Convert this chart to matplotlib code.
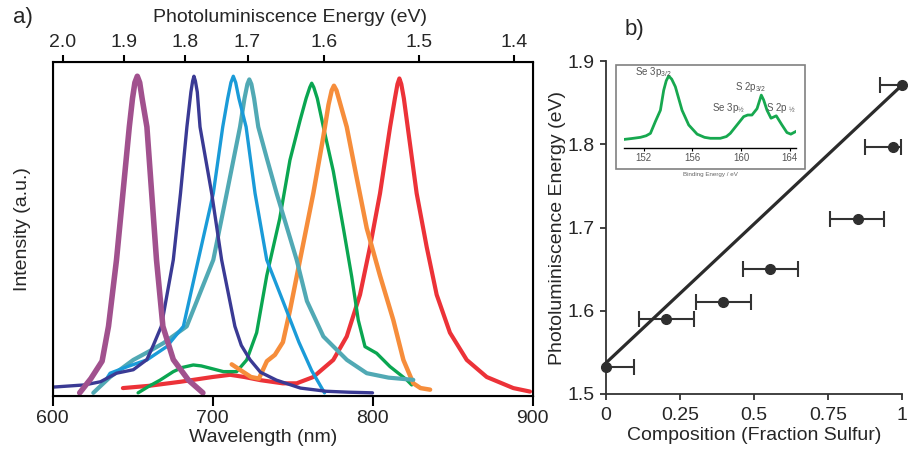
import matplotlib
matplotlib.use("Agg")
import matplotlib.pyplot as plt
from matplotlib.patches import Rectangle

plt.rcParams['font.family'] = ['Liberation Sans', 'DejaVu Sans']
plt.rcParams['mathtext.default'] = 'regular'

# --- a) photoluminescence spectra (wavelength nm, normalised intensity) ---
magenta_nm = [617, 624, 631, 635, 640, 644, 648, 650, 651.5, 653, 654.5, 656, 659, 662, 665, 669, 675.5, 685, 694]
magenta_I = [0.0, 0.045, 0.10, 0.21, 0.42, 0.63, 0.84, 0.93, 0.98, 1.0, 0.98, 0.93, 0.84, 0.63, 0.42, 0.21,
             0.105, 0.04, 0.0]

navy_nm = [600, 620, 630, 640, 650.5, 659, 663, 668, 675.5, 680, 684, 686.5, 687.6, 688.4, 689.3, 690.5, 692.2,
           699.5, 705.7, 714, 718, 723.4, 730, 740, 755, 771, 785, 800]
navy_I = [0.018, 0.025, 0.035, 0.062, 0.073, 0.105, 0.15, 0.21, 0.42, 0.63, 0.84, 0.95, 0.985, 1.0, 0.985, 0.95,
          0.84, 0.63, 0.42, 0.21, 0.15, 0.105, 0.065, 0.04, 0.015, 0.005, 0.002, 0.0]

blue_nm = [634, 636, 648, 659, 671.4, 681.8, 691.1, 700.5, 706.4, 709.5, 711.5, 713, 714.5, 716.5, 721, 726.6,
           733.9, 744, 754, 762, 770]
blue_I = [0.046, 0.062, 0.085, 0.104, 0.146, 0.21, 0.42, 0.63, 0.84, 0.93, 0.98, 1.0, 0.98, 0.93, 0.84, 0.63,
          0.42, 0.29, 0.16, 0.07, 0.0]

teal_nm = [625.5, 636, 650.5, 660, 669.3, 683.9, 692.2, 700.5, 708.9, 717.2, 720, 721.8, 723, 724.3, 726,
           728.6, 734, 740.1, 752.6, 759, 769.3, 784, 796.4, 810, 825.5]
teal_I = [0.0, 0.05, 0.104, 0.13, 0.157, 0.21, 0.315, 0.42, 0.63, 0.84, 0.93, 0.975, 0.99, 0.975, 0.93,
          0.84, 0.74, 0.63, 0.42, 0.29, 0.178, 0.104, 0.062, 0.048, 0.041]

green_nm = [653.5, 660, 667.2, 675.5, 681, 688, 693, 698.4, 706.8, 715.1, 721.4, 727.6, 733.9, 742, 748.4,
            754.7, 758.5, 760.8, 762, 763.3, 765.5, 769.3, 775.5, 781.8, 787, 791.1, 795.3, 802.6, 810.9,
            821.4, 824.5]
green_I = [0.0, 0.02, 0.04, 0.067, 0.08, 0.088, 0.085, 0.078, 0.067, 0.067, 0.104, 0.19, 0.37, 0.55, 0.735,
           0.86, 0.93, 0.965, 0.978, 0.965, 0.93, 0.84, 0.70, 0.52, 0.367, 0.23, 0.146, 0.125, 0.083,
           0.041, 0.025]

orange_nm = [712, 718, 724, 729, 734, 739, 744, 748.4, 754.7, 763, 769.3, 772.5, 774.5, 775.9, 777.5, 780,
             783.9, 790.1, 796.4, 804.7, 813, 819.3, 825.5, 830, 836]
orange_I = [0.09, 0.07, 0.05, 0.045, 0.10, 0.12, 0.16, 0.26, 0.42, 0.63, 0.81, 0.91, 0.955, 0.97, 0.955, 0.91,
            0.84, 0.68, 0.52, 0.37, 0.23, 0.104, 0.03, 0.015, 0.01]

red_nm = [644, 660, 680, 700, 711, 720, 730, 744, 752.6, 763, 775.5, 783.9, 792.2, 798.4, 804.7, 811, 814,
          815.6, 816.8, 818, 819.6, 822, 827.6, 833.9, 840.1, 848.4, 858.9, 871.4, 888, 898.4]
red_I = [0.015, 0.022, 0.035, 0.05, 0.057, 0.05, 0.04, 0.03, 0.03, 0.05, 0.104, 0.178, 0.31, 0.46, 0.63, 0.84,
         0.93, 0.975, 0.993, 0.975, 0.93, 0.84, 0.63, 0.46, 0.31, 0.19, 0.104, 0.05, 0.015, 0.004]

# top axis: photon energy labels and where they sit on the wavelength scale
energy_labels = ['2.0', '1.9', '1.8', '1.7', '1.6', '1.5', '1.4']
energy_tick_nm = [606.3, 644.9, 683.1, 721.9, 769.9, 828.8, 888.6]

# --- b) PL energy vs sulfur fraction ---
sulfur_frac = [0.0, 0.204, 0.396, 0.555, 0.851, 0.969, 1.0]
pl_energy = [1.532, 1.590, 1.610, 1.650, 1.710, 1.797, 1.871]
frac_err_lo = [0.096, 0.091, 0.090, 0.091, 0.093, 0.093, 0.073]
frac_err_hi = [0.096, 0.093, 0.095, 0.094, 0.089, 0.028, 0.073]
fit_x = [0.0, 1.0]
fit_y = [1.537, 1.871]

# inset: XPS spectrum (binding energy eV, normalised counts)
xps_ev = [150.44, 151.0, 151.73, 152.2, 152.55, 152.96, 153.37, 153.64, 153.85, 154.05, 154.3, 154.6,
          155.15, 155.7, 156.39, 157.0, 157.48, 158.3, 158.8, 159.12, 159.67, 160.22, 160.55, 160.9, 161.32,
          161.67, 161.86, 162.14, 162.47, 162.9, 163.37, 163.78, 164.1, 164.47]
xps_I = [0.105, 0.115, 0.13, 0.15, 0.18, 0.33, 0.47, 0.72, 0.84, 0.90, 0.86, 0.765, 0.47, 0.285, 0.17, 0.13,
         0.118, 0.118, 0.14, 0.18, 0.285, 0.39, 0.41, 0.41, 0.49, 0.66, 0.60, 0.47, 0.37, 0.40, 0.285, 0.19,
         0.17, 0.2]

W, H = 908, 453
fig = plt.figure(figsize=(W / 100, H / 100), dpi=100)


def box(x0, y0, x1, y1):
    # pixel box (top-left origin) -> figure fraction rect
    return [x0 / W, 1 - y1 / H, (x1 - x0) / W, (y1 - y0) / H]


def fx(x):
    return x / W


def fy(y):
    return 1 - y / H


txt = '#262626'

# ---------------- panel a ----------------
ax = fig.add_axes(box(52.5, 62, 532.5, 396))
spectra = [
    (red_nm, red_I, '#EC3238', 3.0),
    (green_nm, green_I, '#0AA651', 2.4),
    (orange_nm, orange_I, '#F68D3B', 3.2),
    (teal_nm, teal_I, '#51A9B4', 3.0),
    (blue_nm, blue_I, '#1A9BD8', 2.4),
    (navy_nm, navy_I, '#3A3A94', 2.4),
    (magenta_nm, magenta_I, '#A1518E', 4.0),
]
for nm, inten, col, lw in spectra:
    ax.plot(nm, inten, color=col, lw=lw, solid_capstyle='round', solid_joinstyle='round')

ax.set_xlim(600, 900)
ax.set_ylim(-0.01, 1.045)
ax.set_xticks([600, 700, 800, 900])
ax.set_yticks([])
ax.tick_params(axis='x', direction='out', length=7, width=1.5, pad=3, labelsize=14, labelcolor=txt)
for s in ax.spines.values():
    s.set_linewidth(1.5)
    s.set_color('black')

ax_top = ax.twiny()
ax_top.set_xlim(600, 900)
ax_top.set_xticks(energy_tick_nm)
ax_top.set_xticklabels(energy_labels)
ax_top.tick_params(axis='x', direction='out', length=5, width=1.5, pad=3, labelsize=14, labelcolor=txt)

fig.text(fx(263), fy(437), 'Wavelength (nm)', fontsize=14, color=txt, ha='center', va='center')
fig.text(fx(290), fy(17), 'Photoluminiscence Energy (eV)', fontsize=14, color=txt, ha='center', va='center')
fig.text(fx(23), fy(229), 'Intensity (a.u.)', fontsize=14, color=txt, ha='center', va='center', rotation=90)
fig.text(fx(23), fy(18), 'a)', fontsize=16, color=txt, ha='center', va='center')

# ---------------- panel b ----------------
bx = fig.add_axes(box(605.7, 61, 902, 394))
bx.errorbar(sulfur_frac, pl_energy, xerr=[frac_err_lo, frac_err_hi], fmt='none',
            ecolor='#333333', elinewidth=1.5, capsize=6, capthick=1.5, zorder=3)
bx.plot(fit_x, fit_y, color='#2b2b2b', lw=2.3, zorder=4, clip_on=False)
bx.plot(sulfur_frac, pl_energy, 'o', ms=7, color='#2f2f2f', zorder=5, clip_on=False)
bx.set_xlim(0, 1)
bx.set_ylim(1.5, 1.9)
bx.set_xticks([0, 0.25, 0.5, 0.75, 1])
bx.set_xticklabels(['0', '0.25', '0.5', '0.75', '1'])
bx.set_yticks([1.5, 1.6, 1.7, 1.8, 1.9])
bx.tick_params(direction='out', length=4, width=1.3, labelsize=14, labelcolor=txt, color='#333333')
bx.tick_params(axis='x', pad=5)
bx.tick_params(axis='y', pad=4)
for side in ['top', 'right']:
    bx.spines[side].set_visible(False)
for side in ['left', 'bottom']:
    bx.spines[side].set_linewidth(1.3)
    bx.spines[side].set_color('#333333')

fig.text(fx(754), fy(435), 'Composition (Fraction Sulfur)', fontsize=14, color=txt, ha='center', va='center')
fig.text(fx(557), fy(228), 'Photoluminiscence Energy (eV)', fontsize=14, color=txt,
         ha='center', va='center', rotation=90)
fig.text(fx(634), fy(30), 'b)', fontsize=16, color=txt, ha='center', va='center')

# inset frame and XPS axes
fig.patches.append(Rectangle((fx(616), fy(169)), (805 - 616) / W, (169 - 65) / H,
                             transform=fig.transFigure, fill=True, facecolor='white',
                             edgecolor='#808080', lw=1.2, zorder=6))
ix = fig.add_axes(box(624.3, 68, 795.7, 147.7))
ix.set_zorder(7)
ix.patch.set_alpha(0)
ix.plot(xps_ev, xps_I, color='#17A84F', lw=2.0, solid_joinstyle='round')
ix.set_xlim(150.4, 164.5)
ix.set_ylim(0, 1)
ix.set_xticks([152, 156, 160, 164])
ix.set_yticks([])
ix.tick_params(axis='x', length=2, width=0.8, pad=1.5, labelsize=7, labelcolor='#555555')
for side in ['top', 'right', 'left']:
    ix.spines[side].set_visible(False)
ix.spines['bottom'].set_linewidth(1.0)
ix.text(0.5, -0.33, 'Binding Energy / eV', transform=ix.transAxes, fontsize=4.5, color='#666666',
        ha='center', va='center')

lab = dict(fontsize=7, color='#555555', ha='center', va='center')
ix.text(152.8, 0.95, 'Se 3p$_{3/2}$', **lab)
ix.text(160.8, 0.76, 'S 2p$_{3/2}$', **lab)
ix.text(159.0, 0.50, 'Se 3p$_{½}$', **lab)
ix.text(163.3, 0.50, 'S 2p $_{½}$', **lab)

fig.savefig('out.png', dpi=100)
